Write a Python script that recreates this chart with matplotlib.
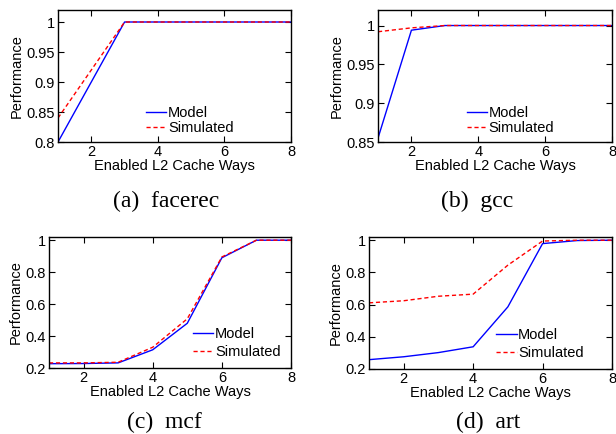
import matplotlib
matplotlib.use("Agg")
from matplotlib import pyplot as plt

ways = [1, 2, 3, 4, 5, 6, 7, 8]

facerec_model = [0.80, 0.90, 1.00, 1.00, 1.00, 1.00, 1.00, 1.00]
facerec_sim = [0.84, 0.92, 1.00, 1.00, 1.00, 1.00, 1.00, 1.00]

gcc_model = [0.855, 0.994, 1.00, 1.00, 1.00, 1.00, 1.00, 1.00]
gcc_sim = [0.992, 0.997, 1.00, 1.00, 1.00, 1.00, 1.00, 1.00]

mcf_model = [0.227, 0.228, 0.232, 0.314, 0.48, 0.89, 1.00, 1.00]
mcf_sim = [0.232, 0.232, 0.236, 0.33, 0.508, 0.895, 1.00, 1.00]

art_model = [0.258, 0.276, 0.302, 0.338, 0.586, 0.979, 0.998, 1.00]
art_sim = [0.611, 0.624, 0.652, 0.665, 0.845, 0.995, 1.00, 1.00]

captions = ["(a)  facerec", "(b)  gcc", "(c)  mcf", "(d)  art"]

plt.rcParams['font.family'] = ['Liberation Sans', 'DejaVu Sans']

W, H = 616, 434
fig = plt.figure(figsize=(W / 100, H / 100), dpi=100)


def box(l, r, t, b):
    # pixel box -> figure fraction
    return [l / W, (H - b) / H, (r - l) / W, (b - t) / H]


panels = [
    (box(58, 291, 10, 142), facerec_model, facerec_sim, (0.8, 1.02), [0.8, 0.85, 0.9, 0.95, 1], (166, 201), (0.378, 0.163), 0.1),
    (box(378, 612, 10, 142), gcc_model, gcc_sim, (0.85, 1.02), [0.85, 0.9, 0.95, 1], (477, 201), (0.38, 0.163), 0.1),
    (box(49, 291, 237, 368), mcf_model, mcf_sim, (0.2, 1.02), [0.2, 0.4, 0.6, 0.8, 1], (164, 422), (0.595, 0.19), 0.3),
    (box(369, 612, 237, 369), art_model, art_sim, (0.2, 1.02), [0.2, 0.4, 0.6, 0.8, 1], (488, 422), (0.523, 0.19), 0.3),
]

for i, (pos, model, sim, ylim, yt, cap, lpos, lsp) in enumerate(panels):
    ax = fig.add_axes(pos)
    ax.plot(ways, model, color='b', lw=1.0, label='Model')
    ax.plot(ways, sim, color='r', lw=1.0, ls=(0, (3, 2)), label='Simulated')
    ax.set_xlim(1, 8)
    ax.set_ylim(*ylim)
    ax.set_xticks([2, 4, 6, 8])
    ax.set_yticks(yt)
    ax.set_yticklabels([('%g' % v) for v in yt])
    ax.tick_params(direction='in', top=True, right=True, labelsize=10.5, length=4, pad=2)
    ax.set_xlabel('Enabled L2 Cache Ways', fontsize=10.5, labelpad=0)
    ax.set_ylabel('Performance', fontsize=10.5, labelpad=2)
    for s in ax.spines.values():
        s.set_linewidth(1.0)
    leg = ax.legend(loc='center left', bbox_to_anchor=lpos, fontsize=10.5,
                    frameon=True, fancybox=False, handlelength=1.4,
                    handletextpad=0.1, labelspacing=lsp, borderpad=0.0,
                    borderaxespad=0.0)
    leg.get_frame().set_edgecolor('white')
    leg.get_frame().set_linewidth(0)
    leg.get_frame().set_alpha(1)
    fig.text(cap[0] / W, 1 - cap[1] / H, captions[i], ha='center', va='center',
             family=['Liberation Serif', 'DejaVu Serif'], fontsize=17)

plt.savefig("out.png", dpi=100)
